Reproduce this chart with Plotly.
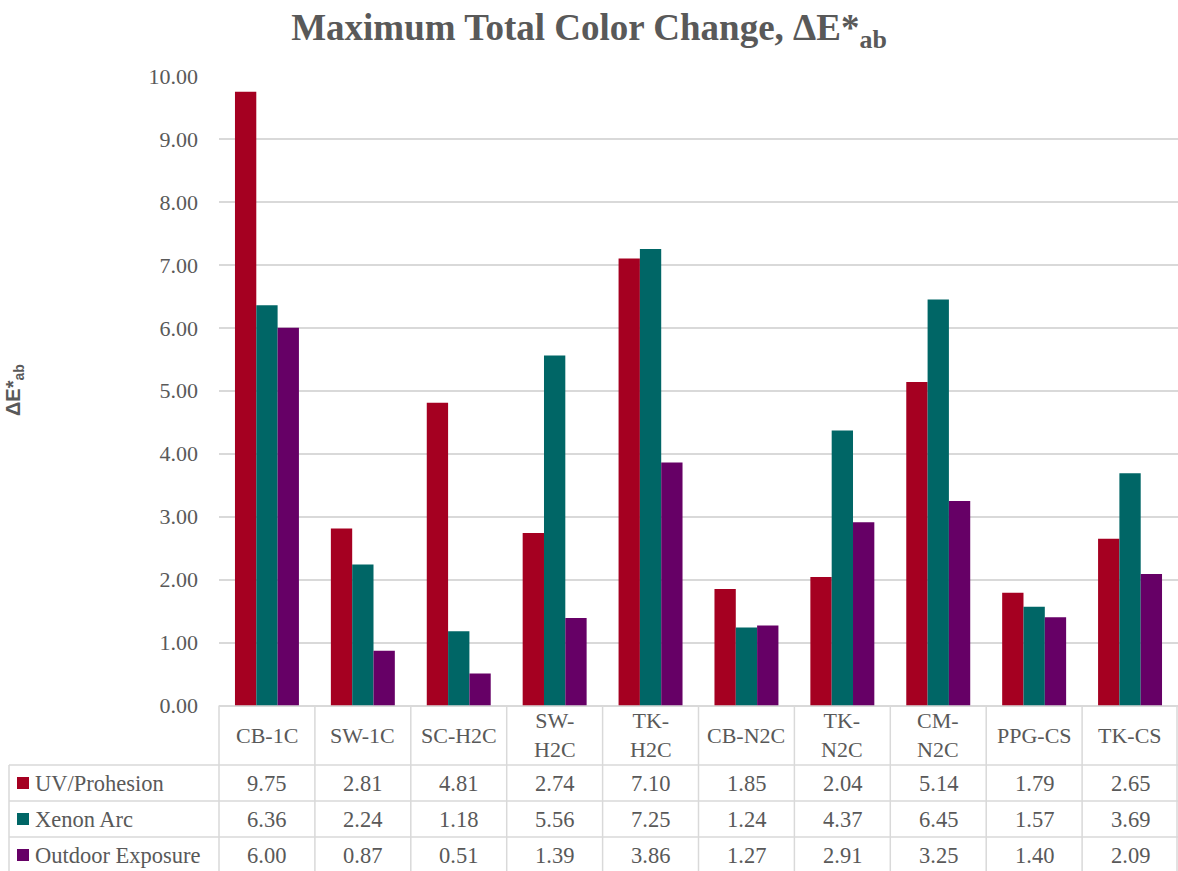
import plotly.graph_objects as go

# Sample codes and their data-table header labels
samples = ["CB-1C", "SW-1C", "SC-H2C", "SW-H2C", "TK-H2C",
           "CB-N2C", "TK-N2C", "CM-N2C", "PPG-CS", "TK-CS"]
header_labels = ["CB-1C", "SW-1C", "SC-H2C", "SW-<br>H2C", "TK-<br>H2C",
                 "CB-N2C", "TK-<br>N2C", "CM-<br>N2C", "PPG-CS", "TK-CS"]

# Maximum total colour change per exposure method
uv_prohesion = [9.75, 2.81, 4.81, 2.74, 7.10, 1.85, 2.04, 5.14, 1.79, 2.65]
xenon_arc = [6.36, 2.24, 1.18, 5.56, 7.25, 1.24, 4.37, 6.45, 1.57, 3.69]
outdoor_exposure = [6.00, 0.87, 0.51, 1.39, 3.86, 1.27, 2.91, 3.25, 1.40, 2.09]

series_names = ["UV/Prohesion", "Xenon Arc", "Outdoor Exposure"]
series_values = [uv_prohesion, xenon_arc, outdoor_exposure]
series_colors = ["#A50021", "#006666", "#660066"]

y_ticks = [0, 1, 2, 3, 4, 5, 6, 7, 8, 9, 10]

W, H = 1178, 871
TEXT = "#595959"
GRID = "#D9D9D9"
SERIF = "Liberation Serif, Times New Roman, serif"


def px(x):
    return x / W


def py(y):
    return 1 - y / H


# plot area in pixels
PL, PR, PT, PB = 219, 1178, 76, 705.5
xdom = [px(PL), px(PR)]
ydom = [py(PB), py(PT)]

fig = go.Figure()
for name, vals, col in zip(series_names, series_values, series_colors):
    fig.add_trace(go.Bar(
        x=samples, y=vals, name=name,
        marker=dict(color=col, line=dict(width=0)),
        showlegend=False,
    ))

n = len(samples)


def col_edge(i):
    # paper x of the boundary between categories (category axis range -0.5..n-0.5)
    return xdom[0] + (xdom[1] - xdom[0]) * i / n


def col_center(i):
    return xdom[0] + (xdom[1] - xdom[0]) * (i + 0.5) / n


shapes = []
annotations = []
line = dict(color=GRID, width=1.5)

# table geometry (pixels)
HEAD_TOP, HEAD_BOT = 705.5, 765
ROW_EDGES = [765, 801, 837, 873]
LABEL_LEFT = 9

# vertical column lines
for i in range(n + 1):
    xe = min(col_edge(i), px(W - 1))
    shapes.append(dict(type="line", xref="paper", yref="paper",
                       x0=xe, x1=xe, y0=py(HEAD_TOP), y1=py(H), line=line))
# label column left border
shapes.append(dict(type="line", xref="paper", yref="paper",
                   x0=px(LABEL_LEFT), x1=px(LABEL_LEFT),
                   y0=py(HEAD_BOT), y1=py(H), line=line))
# horizontal row lines
for ye in ROW_EDGES[:-1]:
    shapes.append(dict(type="line", xref="paper", yref="paper",
                       x0=px(LABEL_LEFT), x1=1, y0=py(ye), y1=py(ye), line=line))

# header labels
for i, lab in enumerate(header_labels):
    annotations.append(dict(
        xref="paper", yref="paper", x=col_center(i),
        y=py((HEAD_TOP + HEAD_BOT) / 2), text=lab, showarrow=False,
        xanchor="center", yanchor="middle", align="center",
        font=dict(family=SERIF, size=22, color=TEXT),
    ))

# data rows with legend keys
for r, (name, vals, colr) in enumerate(zip(series_names, series_values, series_colors)):
    yc = (ROW_EDGES[r] + ROW_EDGES[r + 1]) / 2
    if r == 2:
        yc = (ROW_EDGES[r] + H) / 2 + 1
    shapes.append(dict(type="rect", xref="paper", yref="paper",
                       x0=px(17), x1=px(29), y0=py(yc + 6), y1=py(yc - 6),
                       fillcolor=colr, line=dict(width=0)))
    annotations.append(dict(
        xref="paper", yref="paper", x=px(33), y=py(yc), text=name,
        showarrow=False, xanchor="left", yanchor="middle",
        font=dict(family=SERIF, size=22.5, color=TEXT),
    ))
    for i, v in enumerate(vals):
        annotations.append(dict(
            xref="paper", yref="paper", x=col_center(i), y=py(yc),
            text=f"{v:.2f}", showarrow=False, xanchor="center", yanchor="middle",
            font=dict(family=SERIF, size=22.5, color=TEXT),
        ))

# y-axis title
annotations.append(dict(
    xref="paper", yref="paper", x=px(15), y=py(390),
    text="<b>ΔE*<sub>ab</sub></b>", showarrow=False, textangle=-90,
    xanchor="center", yanchor="middle",
    font=dict(family="Liberation Sans, Arial, sans-serif", size=20, color=TEXT),
))

fig.update_layout(
    width=W, height=H,
    margin=dict(l=0, r=0, t=0, b=0, pad=0, autoexpand=False),
    paper_bgcolor="white", plot_bgcolor="white",
    barmode="group", bargap=0.333, bargroupgap=0,
    title=dict(
        text="<b>Maximum Total Color Change, ΔE*<sub>ab</sub></b>",
        x=0.5, xanchor="center", xref="paper",
        y=py(27), yanchor="middle", yref="paper",
        font=dict(family=SERIF, size=37, color=TEXT),
    ),
    xaxis=dict(domain=xdom, type="category", range=[-0.5, n - 0.5],
               showticklabels=False, showgrid=False, zeroline=False,
               showline=False, ticks="", automargin=False),
    yaxis=dict(domain=ydom, range=[0, 10], tickvals=y_ticks,
               ticktext=[f"{t:.2f}" for t in y_ticks],
               showgrid=True, gridcolor=GRID, gridwidth=1.5,
               zeroline=True, zerolinecolor=GRID, zerolinewidth=1.5,
               showline=False, ticks="", ticklabelstandoff=20,
               automargin=False,
               tickfont=dict(family=SERIF, size=22, color=TEXT)),
    shapes=shapes,
    annotations=annotations,
)

fig.write_html("out.html")
